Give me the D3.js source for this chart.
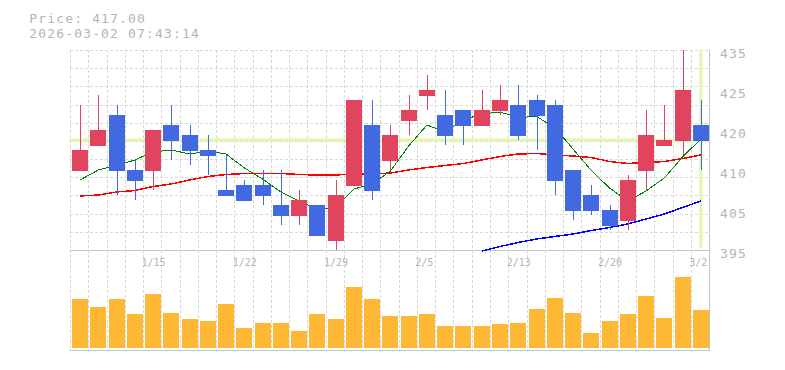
<!DOCTYPE html>
<html>
<head>
<meta charset="utf-8">
<script src="https://cdn.jsdelivr.net/npm/d3@7/dist/d3.min.js"></script>
<style>
  html, body { margin: 0; padding: 0; background: #fff; }
  svg { display: block; }
  text { font-family: "DejaVu Sans Mono", monospace; fill: #b4b4b4; }
</style>
</head>
<body>
<svg id="chart" width="785" height="370"></svg>
<script>
const dates = ['1/8','1/9','1/13','1/14','1/15','1/16','1/19','1/20','1/21','1/22','1/23','1/26','1/27','1/28','1/29','1/30','2/2','2/3','2/4','2/5','2/6','2/9','2/10','2/12','2/13','2/16','2/17','2/18','2/19','2/20','2/24','2/25','2/26','2/27','3/2'];
const opens  = [411,416,422,411,411,420,418,415,407,408,408,404,402,404,397,408,420,413,421,426,422,423,420,423,424,425,424,411,406,403,401,411,416,417,420];
const highs  = [424,426,424,413,419,424,420,418,414,409,411,411,407,404,409,425,425,420,426,430,427,423,427,428,428,426,425,411,408,404,410,423,424,435,425];
const lows   = [411,416,406,405,407,413,412,410,406,405,404,400,400,398,395,408,405,411,418,423,416,416,420,422,417,415,406,401,402,399,399,407,416,414,411];
const closes = [415,419,411,409,419,417,415,414,406,405,406,402,405,398,406,425,407,418,423,427,418,420,423,425,418,422,409,403,403,400,409,418,417,427,417];
const ma5  = [409,411,411.9,413,414.6,415,414.2,414.8,414.2,411.4,409.2,406.6,404.8,403.2,403.4,407.2,408.2,410.8,415.8,420,418.6,421,422.2,422.6,421.5,421.7,419.5,415.2,410.9,407.4,404.8,406.8,409.4,413.6,417.2];
const ma25 = [405.8,406,406.6,406.9,407.7,408.2,409,409.7,410.1,410.3,410.3,410.3,410.1,410,410,410.2,410.2,410.4,411,411.5,411.9,412.3,413,413.7,414.2,414.3,414,413.8,413.5,412.7,412.3,412.5,412.7,413.3,414];
const ma75 = [null,null,null,null,null,null,null,null,null,null,null,null,null,null,null,null,null,null,null,null,null,null,394.8,395.7,396.5,397.2,397.7,398.2,398.9,399.5,400.2,401.2,402.2,403.5,404.8];
const volumes = [49300,41300,49300,34300,54300,35300,29300,27300,44300,20300,25300,25300,17300,34300,29300,61300,49300,32300,32300,34300,22300,22300,22300,24300,25300,39300,50300,35300,15300,27300,34300,52300,30300,71300,38300];
const xTickLabels = ['1/15','1/22','1/29','2/5','2/13','2/20','3/2'];
const yTickValues = [435,427,419,411,403,395];
const yTickLabels = ['435','425','420','410','405','395'];
const currentPrice = 417.00;
const priceText = 'Price: 417.00';
const timeText = '2026-03-02 07:43:14';

const svg = d3.select('#chart');
const left = 70, right = 709.1;
const pTop = 50, pBottom = 250, vBottom = 350;

const x = d3.scaleBand().domain(dates).range([left, right]).paddingInner(0).paddingOuter(0);
const bodyW = 16;
const cx = d => x(d) + 2 + bodyW / 2;
const y = d3.scaleLinear().domain([395, 435]).range([pBottom, pTop]);
const yv = d3.scaleLinear().domain([0, 100000]).range([348.3, 248.3]);

const data = dates.map((d, i) => ({d, o: opens[i], h: highs[i], l: lows[i], c: closes[i], v: volumes[i], m5: ma5[i], m25: ma25[i], m75: ma75[i]}));

// grid
const grid = svg.append('g').attr('stroke', '#d8d8d8').attr('stroke-width', 1).attr('stroke-dasharray', '3,2').attr('shape-rendering', 'crispEdges');
const hVals = d3.range(11).map(i => 395 + (i + 1) * 40 / 11);
grid.selectAll('line.h').data(hVals).join('line')
  .attr('x1', left).attr('x2', right).attr('y1', v => Math.round(y(v)) + 0.5).attr('y2', v => Math.round(y(v)) + 0.5);
grid.selectAll('line.v').data(dates).join('line')
  .attr('x1', d => Math.round(x(d)) + 0.5).attr('x2', d => Math.round(x(d)) + 0.5)
  .attr('y1', pTop).attr('y2', vBottom);

// current price guides
svg.append('line').attr('x1', left).attr('x2', right).attr('y1', y(currentPrice)).attr('y2', y(currentPrice))
  .attr('stroke', '#e5f5a9').attr('stroke-width', 3);
svg.append('line').attr('x1', cx(dates[dates.length - 1])).attr('x2', cx(dates[dates.length - 1]))
  .attr('y1', pTop).attr('y2', 248.5).attr('stroke', '#e5f5a9').attr('stroke-width', 3);

// axes frame
const frame = svg.append('g').attr('stroke', '#c4c4c4').attr('stroke-width', 1).attr('shape-rendering', 'crispEdges');
frame.append('line').attr('x1', left).attr('x2', 710).attr('y1', pBottom + 0.5).attr('y2', pBottom + 0.5);
frame.append('line').attr('x1', left).attr('x2', 710).attr('y1', vBottom + 0.5).attr('y2', vBottom + 0.5);
frame.append('line').attr('x1', 709.5).attr('x2', 709.5).attr('y1', pTop).attr('y2', vBottom + 1);

// volume bars
svg.append('g').selectAll('rect').data(data).join('rect')
  .attr('x', d => x(d.d) + 2).attr('width', bodyW)
  .attr('y', d => yv(d.v)).attr('height', d => yv(0) - yv(d.v))
  .attr('fill', '#ffb833').attr('shape-rendering', 'crispEdges');

// moving averages
const lineGen = key => d3.line().defined(d => d[key] != null).x(d => cx(d.d)).y(d => y(d[key]));
svg.append('path').datum(data).attr('d', lineGen('m75')).attr('fill', 'none').attr('stroke', '#0000ff').attr('stroke-width', 1.5).attr('shape-rendering', 'crispEdges');
svg.append('path').datum(data).attr('d', lineGen('m25')).attr('fill', 'none').attr('stroke', '#ff0000').attr('stroke-width', 1.5).attr('shape-rendering', 'crispEdges');
svg.append('path').datum(data).attr('d', lineGen('m5')).attr('fill', 'none').attr('stroke', '#008000').attr('stroke-width', 1).attr('shape-rendering', 'crispEdges');

// candles
const candle = svg.append('g').selectAll('g').data(data).join('g');
const col = d => d.c >= d.o ? '#e0445f' : '#4169e1';
candle.append('rect')
  .attr('x', d => cx(d.d)).attr('width', 1)
  .attr('y', d => y(d.h)).attr('height', d => y(d.l) - y(d.h))
  .attr('fill', col).attr('shape-rendering', 'crispEdges');
candle.append('rect')
  .attr('x', d => x(d.d) + 2).attr('width', bodyW)
  .attr('y', d => y(Math.max(d.o, d.c))).attr('height', d => Math.max(1, Math.abs(y(d.o) - y(d.c)) + 1))
  .attr('fill', col).attr('shape-rendering', 'crispEdges');

// y labels
svg.append('g').selectAll('text').data(yTickValues).join('text')
  .attr('x', 720).attr('y', v => y(v) + 8.3)
  .attr('font-size', 13).attr('letter-spacing', 1.15)
  .text((v, i) => yTickLabels[i]);

// x labels
svg.append('g').selectAll('text').data(xTickLabels).join('text')
  .attr('x', d => cx(d) - 11.6).attr('y', 266)
  .attr('font-size', 10)
  .text(d => d);

// header text
svg.append('text').attr('x', 29.3).attr('y', 22.7).attr('font-size', 13).attr('letter-spacing', 1.15).text(priceText);
svg.append('text').attr('x', 29.3).attr('y', 37.7).attr('font-size', 13).attr('letter-spacing', 1.15).text(timeText);
</script>
</body>
</html>
